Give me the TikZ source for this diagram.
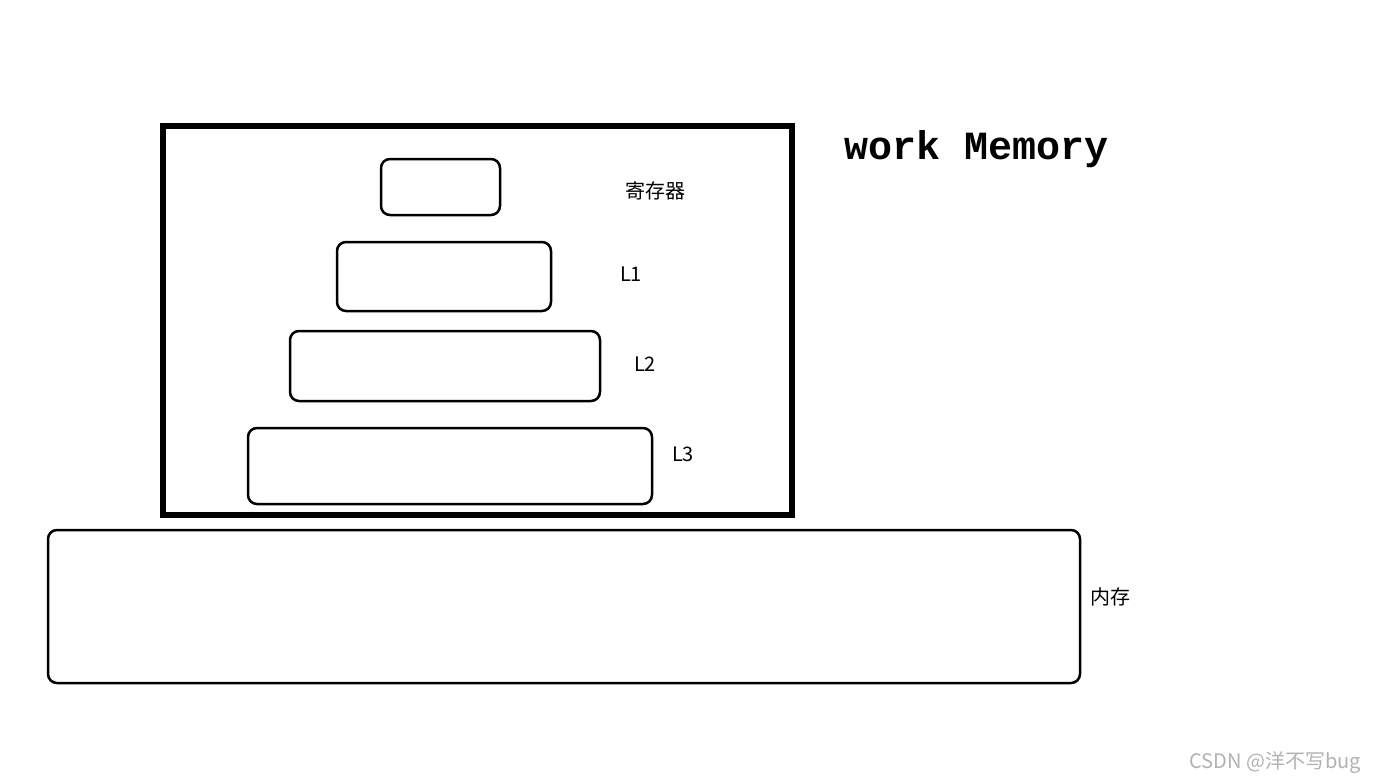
\documentclass[tikz,border=0pt]{standalone}
\usepackage{fontspec}
\setmainfont{Noto Sans CJK SC}
\newfontfamily\monof{Liberation Mono}
\begin{document}
\begin{tikzpicture}[x=1pt,y=-1pt,
  box/.style={draw,line width=2.5pt,rounded corners=9pt},
  lab/.style={font=\fontsize{20}{24}\selectfont,anchor=center}]
\useasboundingbox[fill=white] (0,0) rectangle (1386,777);
\draw[line width=6pt] (163,126) rectangle (792,515);
\node[box,minimum width=119,minimum height=56] (reg) at (440.5,187) {};
\node[box,minimum width=214,minimum height=69] (l1) at (444,276.5) {};
\node[box,minimum width=310,minimum height=70] (l2) at (445,366) {};
\node[box,minimum width=404,minimum height=76] (l3) at (450,466) {};
\node[box,minimum width=1032,minimum height=153] (mem) at (564,606.5) {};
\node[lab] (treg) at (655,191) {寄存器};
\node[lab] (tl1) at (631,274) {L1};
\node[lab] (tl2) at (645,364) {L2};
\node[lab] (tl3) at (683,454) {L3};
\node[lab] (tmem) at (1110,597) {内存};
\node[font=\monof\bfseries\fontsize{40}{44}\selectfont] (wm) at (977,149) {work Memory};
\node[font=\fontsize{20}{24}\selectfont,text=gray!60] (wat) at (1275,763) {CSDN @洋不写bug};
\end{tikzpicture}
\end{document}
